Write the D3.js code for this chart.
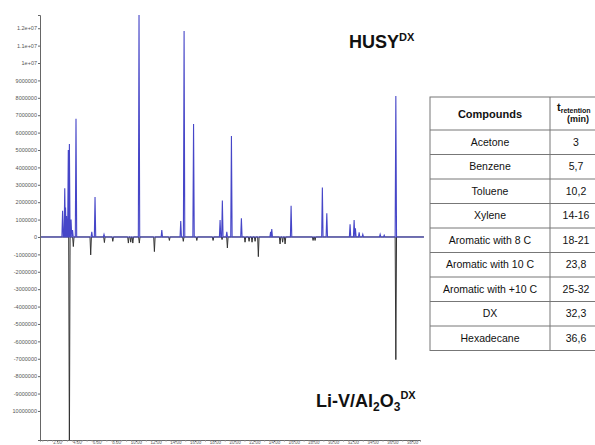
<!DOCTYPE html>
<html>
<head>
<meta charset="utf-8">
<script src="https://cdn.jsdelivr.net/npm/d3@7"></script>
<style>
  html, body { margin: 0; padding: 0; background: #fff; }
  svg { display: block; font-family: "Liberation Sans", Arial, sans-serif; }
</style>
</head>
<body>
<svg id="chart" width="595" height="445"></svg>
<script>
// HUSY chromatogram peaks (retention time in min, intensity)
const husyTimes   = [2.56, 2.78, 2.86, 2.96, 3.14, 3.25, 3.42, 3.57, 3.92, 5.52, 5.85, 6.76,
                     10.31, 12.62, 14.54, 14.88, 15.84, 18.53, 18.76, 19.21, 19.68, 20.69,
                     23.65, 23.77, 25.73, 28.90, 29.35, 31.71, 32.12, 32.25, 32.63, 33.00,
                     34.76, 35.17, 36.35];
const husyHeights = [1.5e6, 2.8e6, 1.7e6, 1.2e6, 5.0e6, 5.35e6, 1.0e6, 0.4e6, 6.8e6, 0.3e6, 2.3e6, 0.15e6,
                     12.9e6, 0.4e6, 0.92e6, 11.84e6, 6.5e6, 0.98e6, 2.1e6, 0.3e6, 5.8e6, 1.07e6,
                     0.3e6, 0.46e6, 1.8e6, 2.84e6, 1.36e6, 0.73e6, 0.98e6, 0.5e6, 0.27e6, 0.15e6,
                     0.15e6, 0.1e6, 8.1e6];

// Li-V/Al2O3 chromatogram peaks, drawn mirrored below zero
const livTimes    = [3.25, 3.65, 5.41, 6.80, 7.65, 9.23, 9.47, 9.68, 10.34, 11.87, 13.39, 14.80,
                     16.17, 17.82, 18.73, 19.27, 21.06, 21.47, 21.77, 22.08, 22.41, 24.61,
                     24.87, 25.12, 27.96, 28.16, 36.35];
const livHeights  = [-12.5e6, -0.55e6, -1.03e6, -0.32e6, -0.25e6, -0.35e6, -0.3e6, -0.35e6, -0.35e6, -0.84e6, -0.2e6, -0.25e6,
                     -0.2e6, -0.2e6, -0.15e6, -0.63e6, -0.3e6, -0.25e6, -0.3e6, -0.25e6, -1.13e6, -0.4e6,
                     -0.3e6, -0.4e6, -0.2e6, -0.2e6, -7.05e6];

// Axis ticks
const yTickValues = [12e6, 11e6, 10e6, 9e6, 8e6, 7e6, 6e6, 5e6, 4e6, 3e6, 2e6, 1e6, 0,
                     -1e6, -2e6, -3e6, -4e6, -5e6, -6e6, -7e6, -8e6, -9e6, -10e6];
const yTickLabels = ["1.2e+07", "1.1e+07", "1e+07", "9000000", "8000000", "7000000", "6000000",
                     "5000000", "4000000", "3000000", "2000000", "1000000", "0",
                     "-1000000", "-2000000", "-3000000", "-4000000", "-5000000", "-6000000",
                     "-7000000", "-8000000", "-9000000", "10000000"];
const xTickValues = [2, 4, 6, 8, 10, 12, 14, 16, 18, 20, 22, 24, 26, 28, 30, 32, 34, 36, 38];
const xTickLabels = ["2.00", "4.00", "6.00", "8.00", "10.00", "12.00", "14.00", "16.00", "18.00",
                     "20.00", "22.00", "24.00", "26.00", "28.00", "30.00", "32.00", "34.00",
                     "36.00", "38.00"];

// Retention-time table
const compounds = ["Acetone", "Benzene", "Toluene", "Xylene", "Aromatic with 8 C",
                   "Aromatic with 10 C", "Aromatic with +10 C", "DX", "Hexadecane"];
const retention = ["3", "5,7", "10,2", "14-16", "18-21", "23,8", "25-32", "32,3", "36,6"];

const svg = d3.select("#chart");

const x = d3.scaleLinear().domain([0.27, 38.8]).range([40, 420]);
const y = d3.scaleLinear().domain([-11.67e6, 12.76e6]).range([440, 15]);

svg.append("defs").append("clipPath").attr("id", "plotClip")
  .append("rect").attr("x", 40).attr("y", 15).attr("width", 392).attr("height", 425);

// Build a trace: flat baseline with a narrow spike for each peak
function tracePoints(times, heights, tStart, tEnd, halfWidth) {
  const peaks = times.map((t, i) => [t, heights[i]]).sort((a, b) => a[0] - b[0]);
  const pts = [[tStart, 0]];
  peaks.forEach(([t, h]) => {
    pts.push([t - halfWidth, 0], [t, h], [t + halfWidth, 0]);
  });
  pts.push([tEnd, 0]);
  return pts;
}

const line = d3.line().x(d => x(d[0])).y(d => y(d[1]));
const plot = svg.append("g").attr("clip-path", "url(#plotClip)");

plot.append("path")
  .attr("d", line(tracePoints(livTimes, livHeights, 0.3, 39.2, 0.07)))
  .attr("fill", "none").attr("stroke", "#333").attr("stroke-width", 1);

plot.append("path")
  .attr("d", line(tracePoints(husyTimes, husyHeights, 0.3, 39.2, 0.07)))
  .attr("fill", "none").attr("stroke", "#4646c8").attr("stroke-width", 1.1);

// Y axis
const yAxis = svg.append("g").attr("transform", "translate(40,0)")
  .call(d3.axisLeft(y).tickValues(yTickValues).tickFormat((d, i) => yTickLabels[i]).tickSize(2).tickPadding(1));
yAxis.select(".domain").attr("stroke", "#666");
yAxis.selectAll(".tick line").attr("stroke", "#666");
yAxis.selectAll("text").attr("font-size", 5.5).attr("fill", "#555")
  .attr("font-family", "Liberation Sans, Arial, sans-serif");

// X axis with minor ticks
const minorTicks = d3.range(0.5, 38.8, 0.5);
const xMinor = svg.append("g").attr("transform", "translate(0,440)")
  .call(d3.axisBottom(x).tickValues(minorTicks).tickFormat("").tickSize(1.5));
xMinor.select(".domain").attr("stroke", "#666");
xMinor.selectAll(".tick line").attr("stroke", "#888");

const xAxis = svg.append("g").attr("transform", "translate(0,440)")
  .call(d3.axisBottom(x).tickValues(xTickValues).tickFormat((d, i) => xTickLabels[i]).tickSize(2));
xAxis.select(".domain").remove();
xAxis.selectAll(".tick line").attr("stroke", "#666");
xAxis.selectAll("text").attr("y", 1.2).attr("dy", "0.71em")
  .attr("font-size", 4.5).attr("fill", "#666")
  .attr("font-family", "Liberation Sans, Arial, sans-serif");

// Catalyst labels
const husyLabel = svg.append("text").attr("x", 349).attr("y", 48)
  .attr("font-size", 18).attr("font-weight", "bold").attr("fill", "#111");
husyLabel.append("tspan").text("HUSY");
husyLabel.append("tspan").attr("font-size", 11).attr("dy", -7).text("DX");

const livLabel = svg.append("text").attr("x", 316).attr("y", 407)
  .attr("font-size", 18).attr("font-weight", "bold").attr("fill", "#111");
livLabel.append("tspan").text("Li-V/Al");
livLabel.append("tspan").attr("font-size", 12).attr("dy", 4).text("2");
livLabel.append("tspan").attr("dy", -4).text("O");
livLabel.append("tspan").attr("font-size", 12).attr("dy", 4).text("3");
livLabel.append("tspan").attr("font-size", 11).attr("dy", -12).text("DX");

// Table
const tLeft = 430, tDiv = 550, tRight = 610, tTop = 97, headH = 33, rowH = 24.5;
const table = svg.append("g");
const rowYs = d3.range(compounds.length + 1).map(i => tTop + headH + i * rowH);
const tBottom = rowYs[rowYs.length - 1];

table.append("rect").attr("x", tLeft).attr("y", tTop)
  .attr("width", tRight - tLeft).attr("height", tBottom - tTop)
  .attr("fill", "#fff").attr("stroke", "#777").attr("stroke-width", 1);
table.selectAll(".hline").data(rowYs.slice(0, -1)).enter().append("line")
  .attr("x1", tLeft).attr("x2", tRight).attr("y1", d => d).attr("y2", d => d)
  .attr("stroke", "#777").attr("stroke-width", 1);
table.append("line").attr("x1", tDiv).attr("x2", tDiv).attr("y1", tTop).attr("y2", tBottom)
  .attr("stroke", "#777").attr("stroke-width", 1);

table.append("text").attr("x", (tLeft + tDiv) / 2).attr("y", tTop + headH / 2 + 4)
  .attr("text-anchor", "middle").attr("font-size", 11).attr("font-weight", "bold")
  .attr("fill", "#111").text("Compounds");

const colMid = 576;
const tHead = table.append("text").attr("x", 557).attr("y", tTop + 14)
  .attr("font-size", 11).attr("font-weight", "bold").attr("fill", "#111");
tHead.append("tspan").text("t");
tHead.append("tspan").attr("font-size", 7).attr("dy", 2).text("retention");
table.append("text").attr("x", colMid + 2).attr("y", tTop + 25)
  .attr("text-anchor", "middle").attr("font-size", 9).attr("font-weight", "bold")
  .attr("fill", "#111").text("(min)");

table.selectAll(".cname").data(compounds).enter().append("text")
  .attr("x", (tLeft + tDiv) / 2).attr("y", (d, i) => rowYs[i] + rowH / 2 + 3.5)
  .attr("text-anchor", "middle").attr("font-size", 10.5).attr("fill", "#111").text(d => d);
table.selectAll(".rtime").data(retention).enter().append("text")
  .attr("x", colMid).attr("y", (d, i) => rowYs[i] + rowH / 2 + 3.5)
  .attr("text-anchor", "middle").attr("font-size", 10.5).attr("fill", "#111").text(d => d);
</script>
</body>
</html>
